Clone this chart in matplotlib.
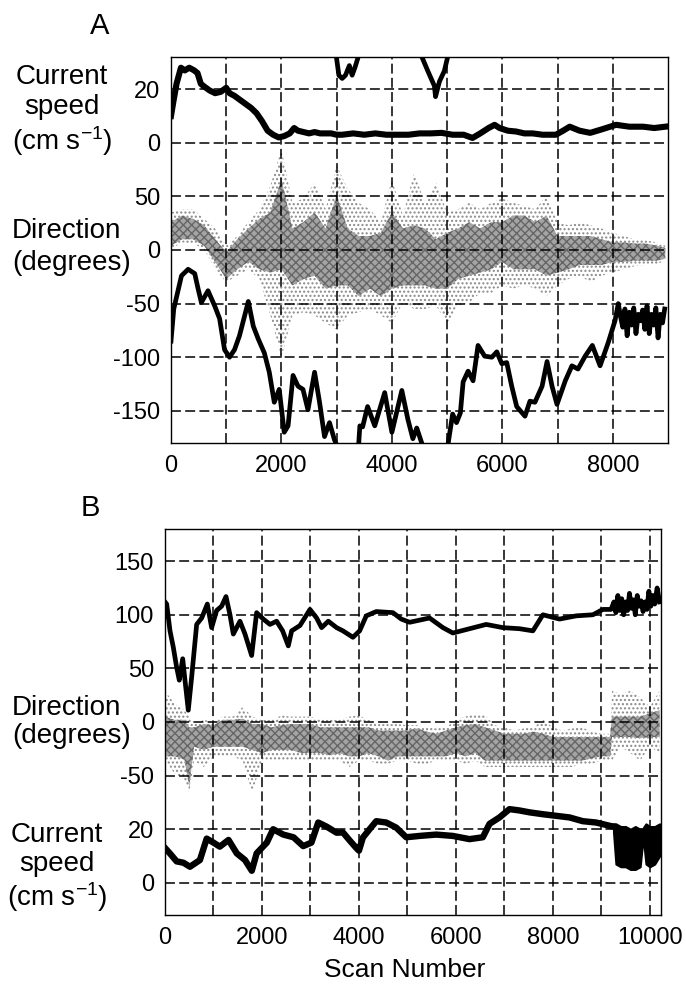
import numpy as np
import matplotlib
matplotlib.use("Agg")
import matplotlib.pyplot as plt

plt.rcParams["font.family"] = ["Liberation Sans", "DejaVu Sans"]
plt.rcParams["mathtext.fontset"] = "custom"
plt.rcParams["mathtext.rm"] = "Liberation Sans"
plt.rcParams["mathtext.default"] = "regular"
plt.rcParams["hatch.linewidth"] = 1.0

# ---------------- Panel A ----------------
# current speed (cm/s)
A_SPEED_SCAN = [0, 40, 100, 180, 250, 330, 420, 480, 540, 600, 700, 800, 900, 1000, 1060,
                1150, 1250, 1350, 1450, 1550, 1650, 1750, 1850, 1950, 2050, 2150, 2230, 2300,
                2400, 2500, 2600, 2700, 2800, 2900, 3000, 3100, 3300, 3500, 3700, 3900, 4100,
                4300, 4500, 4700, 4900, 5100, 5300, 5460, 5600, 5750, 5860, 5950, 6100, 6250,
                6400, 6550, 6730, 6970, 7100, 7220, 7400, 7590, 7800, 8060, 8300, 8550, 8750, 8950]
A_SPEED = [10, 15, 22, 28, 27, 28, 27, 26, 22, 21, 19.5, 18.5, 19, 20.5, 18.5,
           17.5, 16, 14.5, 13, 11, 8, 4.5, 3, 2, 2.5, 3.5, 5.5, 4.5,
           4, 3.5, 4, 3.5, 3.5, 3.5, 3, 3, 3.5, 3, 3.5, 3, 3,
           3, 3.5, 3.5, 3.7, 3, 3, 1.8, 3.5, 5.5, 6.7, 5.5, 4.5, 4.2,
           3.5, 3.5, 3, 3, 4.5, 6, 4.5, 3.7, 5, 6.7, 6, 6, 5.5, 6]

# current direction (degrees, wrapped to +/-180)
A_DIR_SCAN = [0, 50, 190, 310, 430, 490, 550, 670, 790, 880, 970, 1060, 1150, 1240, 1400,
              1490, 1580, 1690, 1780, 1870, 1960, 2050, 2120, 2210, 2300, 2390, 2480, 2600,
              2690, 2780, 2870, 2960, 2985,
              2995, 3040, 3100, 3160, 3230, 3280, 3330, 3390,
              3400, 3420, 3470, 3560, 3690, 3870, 4000, 4180, 4290, 4380, 4450, 4540,
              4560, 4650, 4770, 4790, 4860, 4950, 5010,
              5020, 5100, 5170, 5240, 5290, 5380, 5470, 5560, 5680, 5810, 5900, 5990, 6080,
              6170, 6260, 6410, 6500, 6590, 6720, 6810, 6900, 6990, 7140, 7260, 7370, 7500,
              7630, 7770, 7920, 8040, 8100, 8140, 8180, 8220, 8260, 8300, 8340, 8380, 8420,
              8460, 8500, 8540, 8580, 8620, 8660, 8700, 8740, 8780, 8820, 8860, 8900, 8940]
A_DIR = [-85, -55, -24, -18, -22, -36, -49, -38, -52, -64, -93, -100, -93, -80, -48,
         -71, -83, -96, -114, -142, -130, -170, -164, -117, -127, -130, -149, -114,
         -142, -174, -161, -177, -180,
         180, 163, 160, 163, 172, 163, 170, 180,
         -180, -164, -165, -146, -164, -133, -170, -131, -158, -176, -166, -180,
         178, 167, 153, 143, 157, 167, 180,
         -180, -153, -161, -152, -123, -113, -122, -89, -99, -100, -95, -106, -105,
         -127, -146, -155, -141, -142, -127, -104, -127, -144, -122, -108, -111, -99,
         -89, -108, -86, -66, -50, -62, -72, -55, -80, -58, -70, -54, -78,
         -60, -66, -56, -74, -52, -78, -60, -70, -54, -82, -60, -68, -55]

# second direction record (grey scatter): dense core and sparse outer envelope
A_DIR2_SCAN = [0, 200, 400, 600, 800, 1000, 1200, 1400, 1600, 1800, 2000, 2200, 2400, 2600,
               2800, 3000, 3200, 3400, 3600, 3800, 4000, 4200, 4400, 4600, 4800, 5000, 5200,
               5400, 5600, 5800, 6000, 6200, 6400, 6600, 6800, 7000, 7200, 7400, 7600, 7800,
               8000, 8200, 8400, 8600, 8800, 8950]
A_DIR2_CORE_HI = [26, 32, 29, 23, 10, -2, 10, 20, 29, 35, 66, 20, 26, 35, 20, 51, 20, 13, 13, 16,
                  35, 20, 23, 20, 10, 16, 20, 26, 20, 26, 26, 32, 32, 26, 32, 13, 13, 13, 13, 10,
                  7, 7, 6, 6, 4, 2]
A_DIR2_CORE_LO = [4, 10, 10, 4, -11, -27, -18, -11, -18, -21, -18, -33, -27, -24, -36, -33, -33,
                  -43, -36, -43, -36, -33, -33, -33, -36, -36, -27, -24, -21, -18, -11, -18, -18,
                  -18, -24, -21, -18, -14, -14, -14, -11, -11, -10, -10, -10, -8]
A_DIR2_OUT_HI = [35, 38, 38, 29, 20, 4, 13, 26, 38, 60, 94, 44, 48, 63, 38, 79, 57, 44, 38, 26,
                 66, 32, 72, 44, 63, 35, 38, 44, 38, 44, 48, 44, 41, 38, 51, 26, 23, 26, 23, 20,
                 16, 13, 10, 9, 7, 4]
A_DIR2_OUT_LO = [1, 7, 6, 1, -18, -30, -24, -18, -27, -61, -100, -61, -58, -61, -68, -74, -61,
                 -58, -55, -61, -68, -49, -55, -55, -52, -68, -52, -49, -40, -40, -33, -36, -33,
                 -36, -43, -33, -27, -24, -30, -24, -21, -18, -15, -14, -13, -10]

# ---------------- Panel B ----------------
B_DIR_SCAN = [0, 35, 103, 170, 240, 295, 365, 412, 480, 550, 653, 757, 873, 962, 1065, 1168,
              1258, 1340, 1409, 1546, 1650, 1787, 1890, 2027, 2165, 2302, 2426, 2543, 2612,
              2784, 2990, 3127, 3230, 3368, 3540, 3670, 3876, 4014, 4151, 4357, 4701, 4873,
              5045, 5457, 5732, 5938, 6282, 6625, 6969, 7313, 7588, 7794, 8138, 8481, 8825,
              9031, 9168, 9200, 9260, 9300, 9340, 9380, 9420, 9460, 9500, 9540, 9580, 9620,
              9660, 9700, 9740, 9780, 9820, 9860, 9900, 9940, 9980, 10020, 10060, 10100,
              10150, 10200]
B_DIR = [112, 110, 85, 70, 51, 39, 59, 39, 11, 42, 91, 97, 110, 88, 104, 108,
         117, 100, 82, 94, 82, 62, 102, 96, 91, 94, 85, 71, 85,
         90, 105, 97, 88, 94, 88, 85, 79, 85, 99, 103, 102, 96,
         93, 97, 88, 83, 87, 91, 88, 87, 85, 100, 96, 99, 100,
         105, 105, 105, 112, 102, 118, 104, 115, 100, 112, 104, 120, 106,
         114, 100, 118, 108, 113, 103, 112, 105, 122, 108, 118, 110,
         125, 112]

B_DIR2_SCAN = [0, 200, 400, 500, 600, 800, 1000, 1200, 1400, 1600, 1800, 2000, 2200, 2400,
               2600, 2800, 3000, 3200, 3400, 3600, 3800, 4000, 4200, 4400, 4600, 4800, 5000,
               5200, 5400, 5600, 5800, 6000, 6200, 6400, 6600, 6800, 7000, 7200, 7400, 7600,
               7800, 8000, 8200, 8400, 8600, 8800, 9000, 9180, 9220, 9400, 9600, 9800, 10000,
               10200]
B_DIR2_CORE_HI = [5, 2, 2, -5, -5, -2, -3, 2, 2, 3, -2, -2, -5, -3, -2, -2, -2, -5, -5, -5, -5,
                  -5, -5, -8, -8, -8, -8, -6, -9, -11, -8, -5, -3, -2, -5, -8, -11, -11, -11,
                  -9, -11, -14, -14, -14, -14, -14, -14, -14, 5, 5, 5, 5, 8, 11]
B_DIR2_CORE_LO = [-32, -32, -35, -60, -23, -26, -23, -23, -23, -23, -26, -29, -26, -26, -26,
                  -29, -29, -29, -31, -29, -32, -32, -29, -32, -36, -32, -32, -32, -32, -32,
                  -32, -29, -32, -29, -36, -36, -36, -36, -36, -36, -36, -36, -36, -36, -36,
                  -34, -32, -32, -14, -14, -14, -15, -14, -14]
B_DIR2_OUT_HI = [29, 17, 11, 5, -2, 2, 0, 5, 5, 14, 5, 2, 2, 6, 5, 5, 5, 2, 2, 2, 5, 6, 2, -2,
                 -2, -2, -3, -3, -5, -6, -5, 2, 5, 8, 6, -3, -5, -8, -6, -5, 2, -5, -8, -6, -5,
                 -9, -11, -11, 29, 26, 29, 23, 14, 29]
B_DIR2_OUT_LO = [-36, -48, -54, -66, -36, -42, -32, -32, -32, -36, -66, -36, -36, -36, -36,
                 -36, -36, -36, -36, -36, -42, -36, -36, -39, -39, -36, -36, -39, -39, -36,
                 -36, -36, -39, -36, -42, -42, -42, -42, -42, -42, -42, -42, -42, -42, -39,
                 -39, -36, -36, -36, -23, -29, -36, -23, -29]

B_SPEED_SCAN = [0, 100, 240, 380, 515, 720, 860, 1000, 1130, 1310, 1480, 1650, 1790, 1890,
                2100, 2230, 2440, 2650, 2850, 3020, 3160, 3330, 3540, 3670, 3800, 3945, 4000,
                4082, 4220, 4357, 4563, 4769, 4975, 5250, 5594, 5937, 6281, 6555, 6693, 6899,
                7105, 7311, 7517, 7792, 8067, 8342, 8616, 8891, 9166, 9250]
B_SPEED = [13, 11, 8, 7.5, 6, 8.5, 16.5, 15, 13.5, 16, 11, 8.5, 4.5, 11,
           15, 20, 18, 17, 13.7, 15, 22.5, 21, 18.7, 18.8, 16, 13, 12,
           16.9, 20, 23, 22.5, 20.6, 17, 17.5, 18, 17.5, 16.3, 17, 22, 24.4,
           27.5, 27, 26.3, 25.6, 25, 24.4, 23, 22.5, 21.3, 21]
# strongly fluctuating end of the record: lower / upper envelope (cm/s)
B_SPEED_NOISY_SCAN = [9250, 9300, 9400, 9500, 9600, 9700, 9800, 9850, 9880, 9920, 10000,
                      10100, 10200]
B_SPEED_NOISY_LO = [19, 7, 6, 6, 5, 5, 6, 15, 14, 7, 6, 7, 10]
B_SPEED_NOISY_HI = [22, 22, 21, 21, 20, 21, 20, 20, 21, 22, 21, 21, 22]

DIR_TICKS_A = [-150, -100, -50, 0, 50]
DIR_TICKS_B = [-50, 0, 50, 100, 150]
SPEED_TICKS = [0, 20]
SPEED_SCALE = 2.5
SPEED_OFFSET_A = 100
SPEED_OFFSET_B = -150


def break_at_wraps(x, y):
    x = np.asarray(x, float)
    y = np.asarray(y, float)
    jumps = np.where(np.abs(np.diff(y)) > 180)[0] + 1
    return np.insert(x, jumps, np.nan), np.insert(y, jumps, np.nan)


def style_axes(ax, xmax, xmajor, dir_ticks, offset):
    ax.set_xlim(0, xmax)
    ax.set_ylim(-180, 180)
    ax.set_xticks(xmajor)
    ax.set_xticks(np.arange(1000, xmax, 1000), minor=True)
    pos = list(dir_ticks) + [offset + SPEED_SCALE * s for s in SPEED_TICKS]
    lab = [str(v) for v in dir_ticks] + [str(s) for s in SPEED_TICKS]
    order = np.argsort(pos)
    ax.set_yticks([pos[i] for i in order])
    ax.set_yticklabels([lab[i] for i in order])
    ax.tick_params(axis="both", which="both", length=0, labelsize=17)
    ax.tick_params(axis="y", pad=8)
    ax.tick_params(axis="x", pad=9)
    ax.set_axisbelow(False)
    ax.grid(True, which="both", color="black", linewidth=1.1,
            linestyle=(0, (6.5, 2.8)))
    for s in ax.spines.values():
        s.set_linewidth(1.0)
        s.set_zorder(4)


def grey_cloud(ax, x, core_lo, core_hi, out_lo, out_hi):
    ax.fill_between(x, out_lo, out_hi, facecolor="none", edgecolor="#8a8a8a",
                    hatch="....", linewidth=0, zorder=1)
    ax.fill_between(x, core_lo, core_hi, facecolor="#a4a4a4", edgecolor="#666666",
                    hatch="xxxx", linewidth=0, zorder=1.2)


fig = plt.figure(figsize=(6.86, 9.89), dpi=100)
W, H = 686.0, 989.0

axA = fig.add_axes([171 / W, 1 - 443 / H, (668 - 171) / W, (443 - 57) / H])
grey_cloud(axA, A_DIR2_SCAN, A_DIR2_CORE_LO, A_DIR2_CORE_HI, A_DIR2_OUT_LO, A_DIR2_OUT_HI)
xa, ya = break_at_wraps(A_DIR_SCAN, A_DIR)
axA.plot(xa, ya, color="black", linewidth=3.4, solid_joinstyle="round", zorder=3)
axA.plot(A_SPEED_SCAN, SPEED_OFFSET_A + SPEED_SCALE * np.asarray(A_SPEED),
         color="black", linewidth=4.4, solid_joinstyle="round", zorder=3)
style_axes(axA, 9000, np.arange(0, 9000, 2000), DIR_TICKS_A, SPEED_OFFSET_A)

axB = fig.add_axes([165 / W, 1 - 915 / H, (661 - 165) / W, (915 - 529) / H])
grey_cloud(axB, B_DIR2_SCAN, B_DIR2_CORE_LO, B_DIR2_CORE_HI, B_DIR2_OUT_LO, B_DIR2_OUT_HI)
axB.plot(B_DIR_SCAN, B_DIR, color="black", linewidth=3.4, solid_joinstyle="round", zorder=3)
axB.plot(B_SPEED_SCAN, SPEED_OFFSET_B + SPEED_SCALE * np.asarray(B_SPEED),
         color="black", linewidth=4.6, solid_joinstyle="round", zorder=3)
axB.fill_between(B_SPEED_NOISY_SCAN,
                 SPEED_OFFSET_B + SPEED_SCALE * np.asarray(B_SPEED_NOISY_LO),
                 SPEED_OFFSET_B + SPEED_SCALE * np.asarray(B_SPEED_NOISY_HI),
                 color="black", linewidth=1.5, zorder=3)
style_axes(axB, 10230, np.arange(0, 10001, 2000), DIR_TICKS_B, SPEED_OFFSET_B)


def ftext(x, y, s, **kw):
    fig.text(x / W, 1 - y / H, s, **kw)


speed_label = "Current\nspeed\n(cm s$^{-1}$)"
dir_label = "Direction\n(degrees)"
ftext(100, 26, "A", fontsize=21, ha="center", va="center")
ftext(90, 508, "B", fontsize=21, ha="center", va="center")
ftext(62, 111, speed_label, fontsize=20, ha="center", va="center",
      multialignment="center", linespacing=1.2)
ftext(12, 247, dir_label, fontsize=20, ha="left", va="center",
      multialignment="left", linespacing=1.3)
ftext(12, 722, dir_label, fontsize=20, ha="left", va="center",
      multialignment="left", linespacing=1.12)
ftext(57, 868, speed_label, fontsize=20, ha="center", va="center",
      multialignment="center", linespacing=1.15)
ftext(405, 970, "Scan Number", fontsize=19, ha="center", va="center")

fig.savefig("out.png", dpi=100)
